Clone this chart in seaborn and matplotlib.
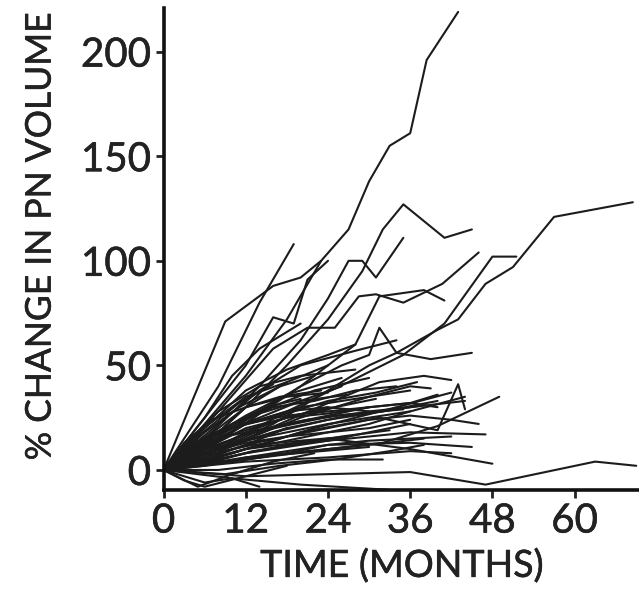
import pandas as pd
import matplotlib
matplotlib.use("Agg")
import matplotlib.pyplot as plt
import matplotlib.patheffects as pe
import seaborn as sns

# follow-up visits (months) and % change in PN volume, one list per patient
months = [
    [0, 6, 12, 18, 23, 27, 30, 33, 36, 38.4, 43],
    [0, 6, 12, 18, 24, 29, 32, 35, 41, 45],
    [0, 7, 14, 20, 24, 27, 29, 31, 35],
    [0, 8, 16, 24, 30, 34, 40, 43, 47, 51, 57, 68.5],
    [0, 9, 18, 27, 35, 41, 48, 51.5],
    [0, 8, 16, 21, 25, 28.5, 31, 35, 40.7, 46],
    [0, 9, 16, 20, 23],
    [0, 8, 14, 19],
    [0, 6, 12, 16, 19, 21, 24],
    [0, 10, 20, 26, 30, 31.5, 34, 39, 45],
    [0, 10, 20, 28, 31.5, 38, 41],
    [0, 12, 24, 31.5, 38, 42],
    [0, 10, 20, 30, 36, 39],
    [0, 10, 20, 31.5, 40, 43, 44],
    [0, 12, 24, 32, 40, 49],
    [0, 12, 24, 36, 47],
    [0, 12, 24, 36, 48],
    [0, 12, 24, 36, 45],
    [0, 12, 24, 36, 47, 63, 69],
    [0, 10, 20, 33],
    [0, 6, 12, 18, 24],
    [0, 6, 12, 18, 24, 30],
    [0, 4, 10, 16, 22, 28, 34],
    [0, 6, 12, 20, 28, 36],
    [0, 6, 12, 18, 24, 30, 36],
    [0, 6, 14, 22, 30],
    [0, 5, 12, 18, 24],
    [0, 6, 12, 18],
    [0, 6, 12, 18, 24, 28],
    [0, 4, 8, 14, 20, 26],
    [0, 6, 12, 18, 24, 30, 36, 42],
    [0, 12, 24, 36, 42],
    [0, 5, 10, 16, 22],
    [0, 3, 6, 12, 18],
    [0, 6, 12, 18, 24, 30],
    [0, 6, 12, 18, 24, 36],
    [0, 8, 16, 24, 32, 40],
    [0, 6, 12, 18, 24, 30, 36, 44],
    [0, 8, 14, 20, 28, 34],
    [0, 6, 10, 14, 20],
    [0, 4, 8, 12, 18, 24],
    [0, 6, 12, 18, 24, 30, 36],
    [0, 8, 16, 24, 32],
    [0, 6, 12, 18, 24, 30, 38],
    [0, 4, 8, 12, 18, 24, 30, 36, 40],
    [0, 6, 12, 18, 24, 30, 36, 42, 46],
    [0, 6, 12, 18],
    [0, 4, 10, 16, 22, 28, 34, 42],
    [0, 6, 12, 18, 26],
    [0, 4, 8, 14, 20, 28],
    [0, 6, 12, 18, 24, 30, 36, 40],
    [0, 3, 6, 10, 14],
    [0, 9, 17, 25, 33, 38],
    [0, 6, 12, 18, 24, 30, 36, 44],
    [0, 5, 10, 15, 20],
    [0, 4, 9, 14, 20, 27],
    [0, 6, 11, 17, 22],
    [0, 3, 8, 13, 19, 25, 31],
    [0, 7, 13, 19, 26, 33],
    [0, 5, 11, 16],
    [0, 4, 9, 15, 21, 28, 35],
    [0, 6, 12, 19, 25, 32, 38],
    [0, 5, 10, 16, 23, 30],
    [0, 3, 7, 12, 17, 23],
    [0, 6, 13, 20, 27],
    [0, 4, 10, 17, 24, 31, 37],
]
changes = [
    [0, 22, 45, 72, 100, 115, 138, 155, 161, 196, 219],
    [0, 12, 30, 50, 72, 95, 115, 127, 111, 115],
    [0, 18, 40, 62, 82, 100, 100, 92, 111],
    [0, 10, 22, 38, 50, 56, 67, 72, 89, 97, 121, 128],
    [0, 12, 28, 42, 55, 70, 102, 102],
    [0, 28, 58, 68, 68, 83, 84, 80, 89, 104],
    [0, 71, 88, 92, 100],
    [0, 40, 80, 108],
    [0, 25, 50, 73, 70, 91, 100],
    [0, 20, 40, 50, 55, 68, 56, 53, 56],
    [0, 18, 40, 60, 83, 86, 81],
    [0, 15, 32, 42, 45, 43],
    [0, 12, 25, 35, 40, 39],
    [0, 8, 18, 25, 19, 41, 29],
    [0, 5, 10, 13, 21, 35],
    [0, 8, 14, 18, 17],
    [0, 10, 15, 10, 3],
    [0, 6, 12, 13, 11],
    [0, -3, -2, -1, -7, 4, 2],
    [0, -4, -7, -9.5],
    [0, 8, 18, 25, 30],
    [0, 5, 12, 20, 24, 28],
    [0, 12, 22, 30, 33, 38, 40],
    [0, 10, 22, 30, 34, 38],
    [0, 3, 8, 12, 14, 18, 22],
    [0, 15, 28, 38, 44],
    [0, 18, 35, 42, 50],
    [0, 12, 30, 42],
    [0, 20, 38, 48, 55, 60],
    [0, 8, 18, 25, 33, 40],
    [0, 2, 6, 8, 12, 14, 15, 16],
    [0, 4, 6, 9, 8],
    [0, -8, -2, 4, 8],
    [0, -5, -8, -3, 2],
    [0, 15, 22, 26, 28, 30],
    [0, 6, 14, 18, 22, 28],
    [0, 10, 18, 24, 28, 33],
    [0, 12, 22, 28, 30, 28, 30, 33],
    [0, 22, 38, 50, 57, 62],
    [0, 25, 45, 58, 70],
    [0, 10, 20, 30, 35, 37],
    [0, 4, 10, 14, 18, 20, 24],
    [0, 0, 3, 5, 5],
    [0, 3, 5, 8, 10, 12, 15],
    [0, 6, 12, 17, 22, 26, 30, 32, 30],
    [0, 6, 12, 16, 20, 24, 26, 24, 22],
    [0, 8, 14, 20],
    [0, 3, 8, 14, 20, 25, 30, 37],
    [0, 14, 26, 36, 44],
    [0, 15, 28, 40, 45, 48],
    [0, 10, 20, 25, 27, 30, 32, 36],
    [0, -3, -6, -4, -8],
    [0, -2, 2, 5, 9, 12],
    [0, 8, 13, 16, 18, 22, 28, 35],
    [0, 12, 22, 30, 34],
    [0, 9, 19, 27, 33, 36],
    [0, 18, 30, 40, 45],
    [0, 7, 15, 20, 26, 30, 34],
    [0, 4, 9, 12, 16, 19],
    [0, 16, 32, 41],
    [0, 8, 16, 20, 24, 27, 29],
    [0, 10, 17, 22, 26, 28, 31],
    [0, 2, 4, 7, 9, 11],
    [0, 13, 24, 30, 35, 38],
    [0, 7, 12, 14, 16],
    [0, 11, 20, 26, 33, 37, 42],
]

rows = []
for pid, (t, v) in enumerate(zip(months, changes)):
    for m, c in zip(t, v):
        rows.append({"patient": pid, "month": m, "change": c})
df = pd.DataFrame(rows)

sns.set_style("ticks")
plt.rcParams["font.family"] = ["Lato", "DejaVu Sans"]

fig = plt.figure(figsize=(6.39, 5.94), dpi=100)
ax = fig.add_axes([0.256, 0.175, 0.744, 0.812])
sns.lineplot(data=df, x="month", y="change", units="patient", estimator=None,
             sort=False, color="#1c1c1c", linewidth=1.5, ax=ax)

ax.set_xlim(0, 69.4)
ax.set_ylim(-9.6, 221)
ax.set_xticks([0, 12, 24, 36, 48, 60])
ax.set_yticks([0, 50, 100, 150, 200])
ax.tick_params(labelsize=29, width=2, length=6, color="#222222", pad=3)
for s in ["top", "right"]:
    ax.spines[s].set_visible(False)
for s in ["left", "bottom"]:
    ax.spines[s].set_linewidth(2.6)
    ax.spines[s].set_color("#111111")
ax.set_xlabel("TIME (MONTHS)", fontsize=27, labelpad=6)
ax.set_ylabel("% CHANGE IN PN VOLUME", fontsize=25.5, labelpad=10)
ax.yaxis.set_label_coords(-0.225, 0.525)

medium = [pe.withStroke(linewidth=0.4, foreground="#222222")]
for t in ax.get_xticklabels() + ax.get_yticklabels():
    t.set_color("#222222")
    t.set_path_effects(medium)
for t in [ax.xaxis.label, ax.yaxis.label]:
    t.set_color("#222222")
    t.set_path_effects(medium)

fig.savefig("out.png", dpi=100)
